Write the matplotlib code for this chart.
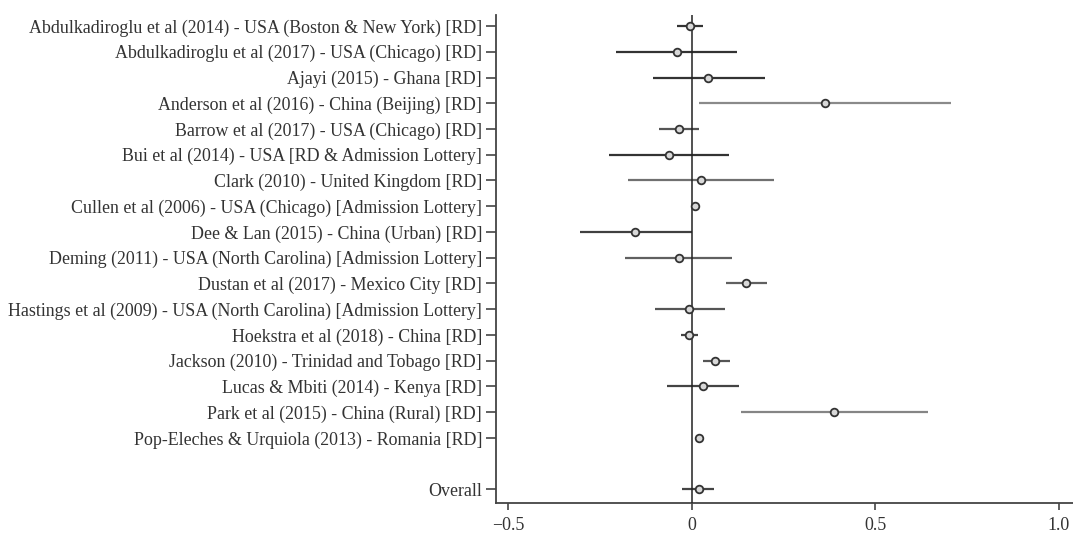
import matplotlib
matplotlib.use("Agg")
import matplotlib.pyplot as plt
import numpy as np

plt.rcParams['font.family'] = ['Liberation Serif', 'DejaVu Serif']

studies = [
    "Abdulkadiroglu et al (2014) - USA (Boston & New York) [RD]",
    "Abdulkadiroglu et al (2017) - USA (Chicago) [RD]",
    "Ajayi (2015) - Ghana [RD]",
    "Anderson et al (2016) - China (Beijing) [RD]",
    "Barrow et al (2017) - USA (Chicago) [RD]",
    "Bui et al (2014) - USA [RD & Admission Lottery]",
    "Clark (2010) - United Kingdom [RD]",
    "Cullen et al (2006) - USA (Chicago) [Admission Lottery]",
    "Dee & Lan (2015) - China (Urban) [RD]",
    "Deming (2011) - USA (North Carolina) [Admission Lottery]",
    "Dustan et al (2017) - Mexico City [RD]",
    "Hastings et al (2009) - USA (North Carolina) [Admission Lottery]",
    "Hoekstra et al (2018) - China [RD]",
    "Jackson (2010) - Trinidad and Tobago [RD]",
    "Lucas & Mbiti (2014) - Kenya [RD]",
    "Park et al (2015) - China (Rural) [RD]",
    "Pop-Eleches & Urquiola (2013) - Romania [RD]",
]
effects = [-0.005, -0.041, 0.045, 0.363, -0.034, -0.062, 0.025, 0.009, -0.153,
           -0.035, 0.148, -0.007, -0.007, 0.065, 0.032, 0.389, 0.020]
ci_low = [-0.039, -0.206, -0.106, 0.020, -0.088, -0.225, -0.174, 0.004, -0.303,
          -0.181, 0.093, -0.100, -0.030, 0.032, -0.068, 0.134, 0.016]
ci_high = [0.032, 0.123, 0.199, 0.707, 0.021, 0.102, 0.225, 0.014, 0.000,
           0.111, 0.204, 0.091, 0.018, 0.104, 0.128, 0.645, 0.024]

overall_label = "Overall"
overall_effect = 0.020
overall_low = -0.025
overall_high = 0.062

x_ticks = [-0.5, 0, 0.5, 1.0]
x_tick_labels = ["\u22120.5", "0", "0.5", "1.0"]

line_colors = ["#333333", "#333333", "#333333", "#8a8a8a", "#555555", "#333333",
               "#707070", "#333333", "#404040", "#606060", "#606060", "#555555",
               "#444444", "#555555", "#444444", "#858585", "#444444"]

fig = plt.figure(figsize=(10.73, 5.36), dpi=100)
ax = fig.add_axes([496/1073, 1 - 502.7/536, 1 - 496/1073, (502.7 - 15)/536])

n = len(studies)
ypos = np.arange(n + 2, 2, -1)  # 19 .. 3
for y, e, lo, hi, c in zip(ypos, effects, ci_low, ci_high, line_colors):
    ax.plot([lo, hi], [y, y], color=c, lw=1.6, solid_capstyle='butt', zorder=2)
    ax.plot([e], [y], marker='o', ms=5.5, mfc='#d8d8d8', mec='#333333', mew=1.3, zorder=4)

ax.plot([overall_low, overall_high], [1, 1], color="#444444", lw=1.6, solid_capstyle='butt', zorder=2)
ax.plot([overall_effect], [1], marker='o', ms=5.5, mfc='#d8d8d8', mec='#333333', mew=1.3, zorder=4)

ax.axvline(0, color='#222222', lw=1.1, zorder=3)

ax.set_xlim(-0.533, 1.039)
ax.set_ylim(0.48, 19.43)

ax.set_yticks(list(ypos) + [1])
ax.set_yticklabels(studies + [overall_label], fontsize=12.9, color='#333333')
ax.set_xticks(x_ticks)
ax.set_xticklabels(x_tick_labels, fontsize=12.9, color='#333333')

for s in ['top', 'right']:
    ax.spines[s].set_visible(False)
for s in ['left', 'bottom']:
    ax.spines[s].set_color('#444444')
    ax.spines[s].set_linewidth(1.3)

ax.tick_params(axis='y', length=7, width=1.2, color='#444444', pad=3)
ax.tick_params(axis='x', length=5, width=1.2, color='#444444', pad=5)

fig.savefig("out.png", dpi=100)
